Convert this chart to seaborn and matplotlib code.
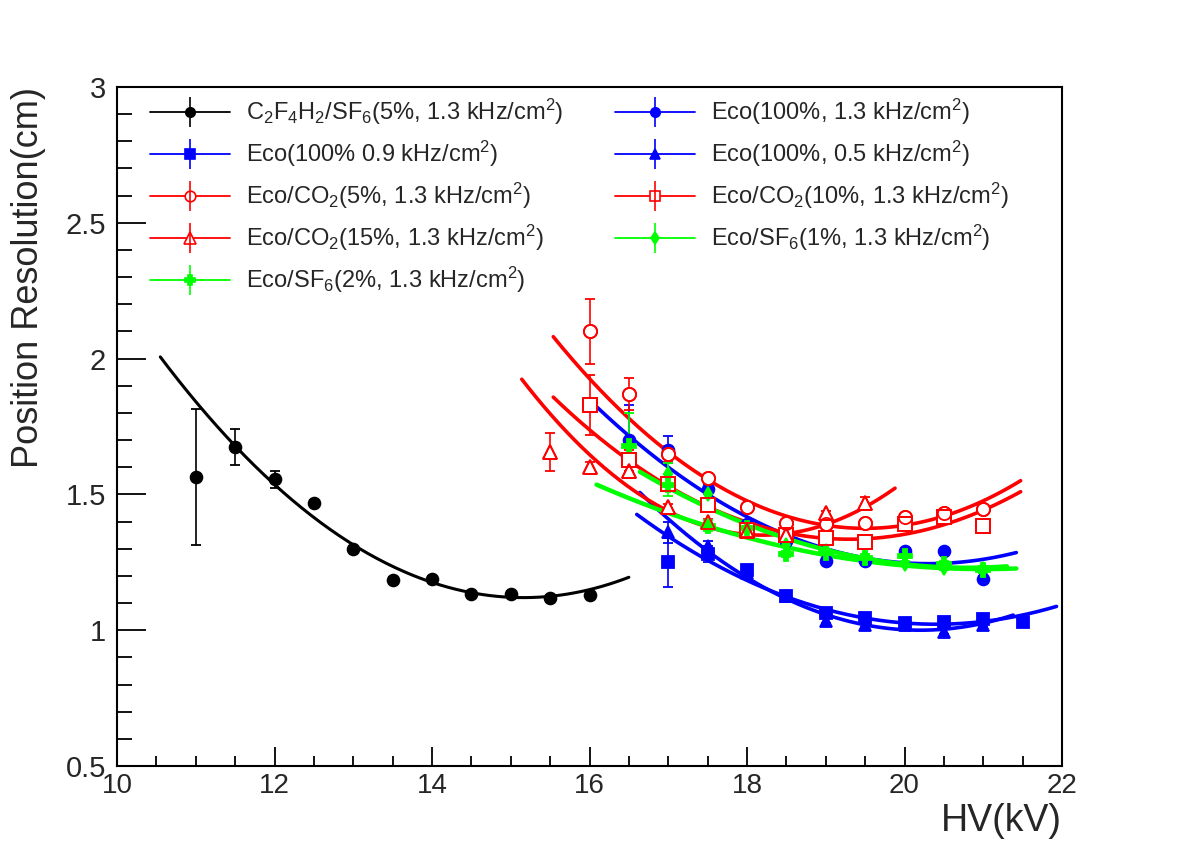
import numpy as np
import matplotlib
matplotlib.use("Agg")
import matplotlib.pyplot as plt
from matplotlib.lines import Line2D
from matplotlib.ticker import MultipleLocator, FormatStrFormatter
import seaborn as sns

# Position resolution vs HV for the different gas mixtures
###################################################################################################

# C2F4H2/SF6 (5%, 1.3 kHz/cm2)
hv_std = [11.0, 11.5, 12.0, 12.5, 13.0, 13.5, 14.0, 14.5, 15.0, 15.5, 16.0]
res_std = [1.565, 1.675, 1.555, 1.47, 1.30, 1.185, 1.19, 1.135, 1.135, 1.12, 1.13]
err_std = [0.25, 0.065, 0.03, 0.01, 0.01, 0.01, 0.01, 0.01, 0.01, 0.01, 0.01]

# Eco 100%, 1.3 kHz/cm2
hv_eco13 = [16.5, 17.0, 17.5, 18.0, 18.5, 19.0, 19.5, 20.0, 20.5, 21.0]
res_eco13 = [1.70, 1.665, 1.52, 1.39, 1.33, 1.255, 1.255, 1.29, 1.29, 1.19]
err_eco13 = [0.13, 0.05, 0.02, 0.01, 0.01, 0.01, 0.01, 0.01, 0.01, 0.01]

# Eco 100%, 0.9 kHz/cm2
hv_eco09 = [17.0, 17.5, 18.0, 18.5, 19.0, 19.5, 20.0, 20.5, 21.0, 21.5]
res_eco09 = [1.25, 1.28, 1.22, 1.125, 1.065, 1.045, 1.025, 1.03, 1.04, 1.03]
err_eco09 = [0.09, 0.03, 0.01, 0.01, 0.01, 0.01, 0.01, 0.01, 0.01, 0.01]

# Eco 100%, 0.5 kHz/cm2
hv_eco05 = [17.0, 17.5, 18.0, 18.5, 19.0, 19.5, 20.0, 20.5, 21.0]
res_eco05 = [1.36, 1.31, 1.21, 1.125, 1.035, 1.02, 1.02, 0.995, 1.02]
err_eco05 = [0.04, 0.02, 0.01, 0.01, 0.01, 0.01, 0.01, 0.01, 0.01]

# Eco/CO2 5%
hv_co2_5 = [16.0, 16.5, 17.0, 17.5, 18.0, 18.5, 19.0, 19.5, 20.0, 20.5, 21.0]
res_co2_5 = [2.10, 1.87, 1.65, 1.56, 1.455, 1.395, 1.39, 1.395, 1.415, 1.43, 1.445]
err_co2_5 = [0.12, 0.06, 0.03, 0.01, 0.01, 0.01, 0.01, 0.01, 0.01, 0.01, 0.01]

# Eco/CO2 10%
hv_co2_10 = [16.0, 16.5, 17.0, 17.5, 18.0, 18.5, 19.0, 19.5, 20.0, 20.5, 21.0]
res_co2_10 = [1.83, 1.625, 1.54, 1.46, 1.37, 1.35, 1.34, 1.325, 1.39, 1.415, 1.385]
err_co2_10 = [0.11, 0.04, 0.02, 0.01, 0.01, 0.01, 0.01, 0.01, 0.01, 0.01, 0.01]

# Eco/CO2 15%
hv_co2_15 = [15.5, 16.0, 16.5, 17.0, 17.5, 18.0, 18.5, 19.0, 19.5]
res_co2_15 = [1.655, 1.60, 1.585, 1.455, 1.40, 1.365, 1.35, 1.43, 1.47]
err_co2_15 = [0.07, 0.02, 0.02, 0.01, 0.01, 0.01, 0.01, 0.01, 0.02]

# Eco/SF6 1%
hv_sf6_1 = [17.0, 17.5, 18.0, 18.5, 19.0, 19.5, 20.0, 20.5, 21.0]
res_sf6_1 = [1.575, 1.50, 1.375, 1.315, 1.29, 1.27, 1.245, 1.23, 1.225]
err_sf6_1 = [0.04, 0.02, 0.01, 0.01, 0.01, 0.01, 0.01, 0.01, 0.01]

# Eco/SF6 2%
hv_sf6_2 = [16.5, 17.0, 17.5, 18.0, 18.5, 19.0, 19.5, 20.0, 20.5, 21.0]
res_sf6_2 = [1.68, 1.535, 1.385, 1.375, 1.28, 1.285, 1.265, 1.275, 1.245, 1.22]
err_sf6_2 = [0.12, 0.04, 0.02, 0.01, 0.01, 0.01, 0.01, 0.01, 0.01, 0.01]

# pol2 fits: range start, range end, vertex hv, vertex res, curvature
fit_std = [10.55, 16.5, 15.16, 1.12, 0.0417]
fit_eco13 = [16.09, 21.42, 20.3, 1.245, 0.0326]
fit_eco09 = [16.6, 21.93, 20.4, 1.022, 0.028]
fit_eco05 = [16.64, 21.38, 20.2, 1.0, 0.040]
fit_co2_5 = [15.54, 21.475, 19.5, 1.375, 0.045]
fit_co2_10 = [15.54, 21.475, 19.3, 1.335, 0.037]
fit_co2_15 = [15.14, 19.88, 18.2, 1.35, 0.0613]
fit_sf6_1 = [16.64, 21.3, 20.8, 1.23, 0.0204]
fit_sf6_2 = [16.09, 21.42, 21.0, 1.225, 0.0129]

labels = [
    "C$_2$F$_4$H$_2$/SF$_6$(5%, 1.3 kHz/cm$^2$)",
    "Eco(100%, 1.3 kHz/cm$^2$)",
    "Eco(100% 0.9 kHz/cm$^2$)",
    "Eco(100%, 0.5 kHz/cm$^2$)",
    "Eco/CO$_2$(5%, 1.3 kHz/cm$^2$)",
    "Eco/CO$_2$(10%, 1.3 kHz/cm$^2$)",
    "Eco/CO$_2$(15%, 1.3 kHz/cm$^2$)",
    "Eco/SF$_6$(1%, 1.3 kHz/cm$^2$)",
    "Eco/SF$_6$(2%, 1.3 kHz/cm$^2$)",
]

###################################################################################################
sns.set_style("ticks")
plt.rcParams["font.family"] = ["Liberation Sans", "DejaVu Sans"]
plt.rcParams["mathtext.fontset"] = "custom"
plt.rcParams["mathtext.rm"] = "Liberation Sans"
plt.rcParams["mathtext.it"] = "Liberation Sans"
plt.rcParams["mathtext.default"] = "rm"

fig = plt.figure(figsize=(11.82, 8.5), dpi=100)
ax = fig.add_axes([117 / 1182, 1 - 766 / 850, 945 / 1182, 679 / 850])

BLUE = (0, 0, 1)
RED = (1, 0, 0)
GREEN = (0, 1, 0)

series = [
    # x, y, err, fit, color, marker, size, filled, fit width
    (hv_std, res_std, err_std, fit_std, "black", "o", 8.5, True, 2.2),
    (hv_eco13, res_eco13, err_eco13, fit_eco13, BLUE, "o", 8.5, True, 2.6),
    (hv_eco09, res_eco09, err_eco09, fit_eco09, BLUE, "s", 8.5, True, 2.6),
    (hv_eco05, res_eco05, err_eco05, fit_eco05, BLUE, "^", 9, True, 2.6),
    (hv_co2_5, res_co2_5, err_co2_5, fit_co2_5, RED, "o", 9.5, False, 2.6),
    (hv_co2_10, res_co2_10, err_co2_10, fit_co2_10, RED, "s", 9.5, False, 2.6),
    (hv_co2_15, res_co2_15, err_co2_15, fit_co2_15, RED, "^", 10, False, 2.6),
    (hv_sf6_1, res_sf6_1, err_sf6_1, fit_sf6_1, GREEN, "d", 7.5, True, 3.2),
    (hv_sf6_2, res_sf6_2, err_sf6_2, fit_sf6_2, GREEN, "P", 9.5, True, 3.2),
]

handles = []
for x, y, e, fit, c, m, ms, filled, flw in series:
    x0, x1, xv, yv, a = fit
    xs = np.linspace(x0, x1, 200)
    sns.lineplot(x=xs, y=a * (xs - xv) ** 2 + yv, color=c, lw=flw, ax=ax, zorder=2)
    fc = c if filled else "white"
    ax.errorbar(x, y, yerr=e, fmt=m, color=c, ms=ms, mfc=fc, mec=c, mew=1.3,
                elinewidth=1.2, capsize=3.5, capthick=1.2, zorder=3)
    if not filled:
        ax.plot(x, y, linestyle="none", marker=m, ms=ms, mfc="none", mec=c, mew=1.3, zorder=4)
    h_line = Line2D([], [], color=c, lw=1.3, marker=m, ms=ms * 0.8, mfc=fc, mec=c, mew=1.2)
    h_bar = Line2D([], [], color=c, lw=0, marker="|", ms=22, mew=1.2)
    handles.append((h_line, h_bar))

ax.set_xlim(10, 22)
ax.set_ylim(0.5, 3)
ax.xaxis.set_major_locator(MultipleLocator(2))
ax.xaxis.set_minor_locator(MultipleLocator(0.5))
ax.yaxis.set_major_locator(MultipleLocator(0.5))
ax.yaxis.set_minor_locator(MultipleLocator(0.1))
ax.xaxis.set_major_formatter(FormatStrFormatter("%g"))
ax.yaxis.set_major_formatter(FormatStrFormatter("%g"))
ax.tick_params(which="both", direction="in", top=False, right=False, width=1.3, color="black")
ax.tick_params(axis="y", which="major", length=21, labelsize=21, pad=8)
ax.tick_params(axis="y", which="minor", length=10.5)
ax.tick_params(axis="x", which="major", length=14, labelsize=20, pad=5)
ax.tick_params(axis="x", which="minor", length=7)
for sp in ax.spines.values():
    sp.set_linewidth(1.5)
    sp.set_color("black")

ax.set_xlabel("HV(kV)", fontsize=27, loc="right", labelpad=3)
ax.set_ylabel("Position Resolution(cm)", fontsize=26, loc="top", labelpad=14)

# ROOT style legend, filled row by row
order = [0, 2, 4, 6, 8, 1, 3, 5, 7]
ax.legend([handles[i] for i in order], [labels[i] for i in order], ncol=2, frameon=False,
          loc="upper left", bbox_to_anchor=(0.02, 1.006), prop={"size": 17},
          handlelength=3.4, handletextpad=0.65, columnspacing=2.2, labelspacing=0.5,
          borderaxespad=0.2)

fig.savefig("out.png", dpi=100)
